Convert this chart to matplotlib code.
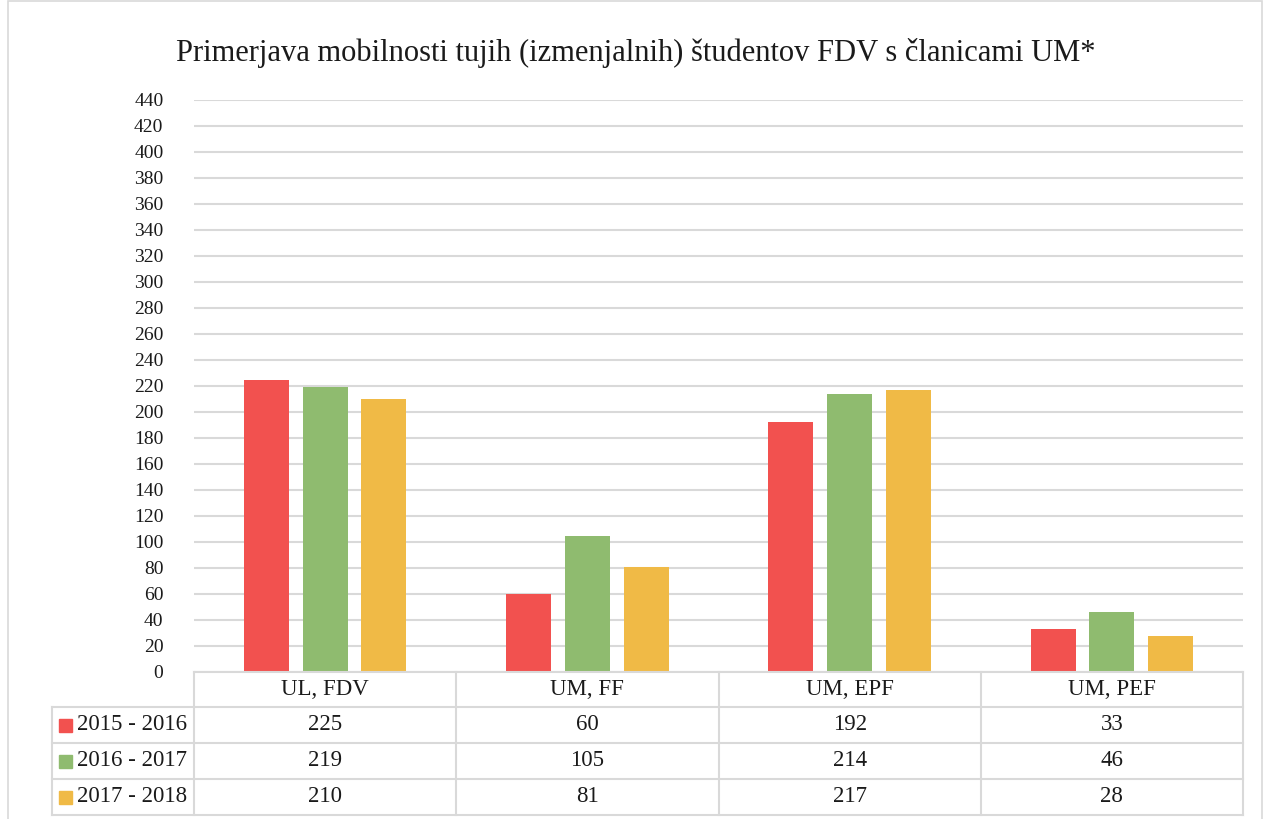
import matplotlib.pyplot as plt
from matplotlib.patches import Rectangle
from matplotlib.lines import Line2D

categories = ["UL, FDV", "UM, FF", "UM, EPF", "UM, PEF"]
series = ["2015 - 2016", "2016 - 2017", "2017 - 2018"]
v2015 = [225, 60, 192, 33]
v2016 = [219, 105, 214, 46]
v2017 = [210, 81, 217, 28]
values = [v2015, v2016, v2017]
colors = ["#f2514f", "#8fbb6f", "#f0ba46"]
title = "Primerjava mobilnosti tujih (izmenjalnih) študentov FDV s članicami UM*"

W, H = 1271, 819
plt.rcParams['font.family'] = ['Liberation Serif', 'DejaVu Serif']
grid_c = "#d9d9d9"
txt_c = "#1a1a1a"

fig = plt.figure(figsize=(W / 100, H / 100), dpi=100)

def fx(px):
    return px / W

def fy(py):
    return 1 - py / H

# chart border (bottom runs off the image, as in the original)
fig.add_artist(Rectangle((fx(8), fy(830)), fx(1262 - 8), fy(1) - fy(830),
                         transform=fig.transFigure, fill=False, ec=grid_c, lw=1.2,
                         clip_on=False))

left, right, top, bottom = 194, 1243, 100, 672
ax = fig.add_axes([fx(left), fy(bottom), fx(right - left), fy(top) - fy(bottom)])

x = range(len(categories))
bw = 0.172
offs = [-0.224, 0, 0.224]
for vals, c, o in zip(values, colors, offs):
    ax.bar([i + o for i in x], vals, width=bw, color=c, zorder=3)

ax.set_xlim(-0.5, len(categories) - 0.5)
ax.set_ylim(0, 440)
ax.set_yticks(range(0, 441, 20))
ax.yaxis.grid(True, color=grid_c, lw=1.5)
ax.set_axisbelow(True)
ax.set_xticks([])
ax.tick_params(axis='y', length=0, labelsize=14, pad=22, labelcolor=txt_c)
for s in ax.spines.values():
    s.set_visible(False)

fig.text(0.5, fy(53), title, ha='center', va='center', fontsize=22, color=txt_c)

# data table
rows_y = [672, 707, 743, 779, 815]
col_x = [left + i * (right - left) / len(categories) for i in range(len(categories) + 1)]
lab_x0 = 52
tfs = 16.5

def hline(y, x0, x1):
    fig.add_artist(Line2D([fx(x0), fx(x1)], [fy(y), fy(y)], color=grid_c, lw=1.5,
                          transform=fig.transFigure))

def vline(xp, y0, y1):
    fig.add_artist(Line2D([fx(xp), fx(xp)], [fy(y0), fy(y1)], color=grid_c, lw=1.5,
                          transform=fig.transFigure))

hline(rows_y[0], left, right)
for y in rows_y[1:]:
    hline(y, lab_x0, right)
vline(lab_x0, rows_y[1], rows_y[-1])
for xp in col_x:
    vline(xp, rows_y[0], rows_y[-1])

for i, cat in enumerate(categories):
    cx = (col_x[i] + col_x[i + 1]) / 2
    fig.text(fx(cx), fy((rows_y[0] + rows_y[1]) / 2), cat, ha='center', va='center',
             fontsize=tfs, color=txt_c)
for r, (name, vals, c) in enumerate(zip(series, values, colors)):
    cy = (rows_y[r + 1] + rows_y[r + 2]) / 2
    fig.add_artist(Rectangle((fx(59), fy(cy + 6.5)), fx(13), fy(cy - 6.5) - fy(cy + 6.5),
                             transform=fig.transFigure, color=c))
    fig.text(fx(77), fy(cy), name, ha='left', va='center', fontsize=tfs, color=txt_c)
    for i, v in enumerate(vals):
        cx = (col_x[i] + col_x[i + 1]) / 2
        fig.text(fx(cx), fy(cy), str(v), ha='center', va='center', fontsize=tfs,
                 color=txt_c)

fig.savefig("out.png", dpi=100)
